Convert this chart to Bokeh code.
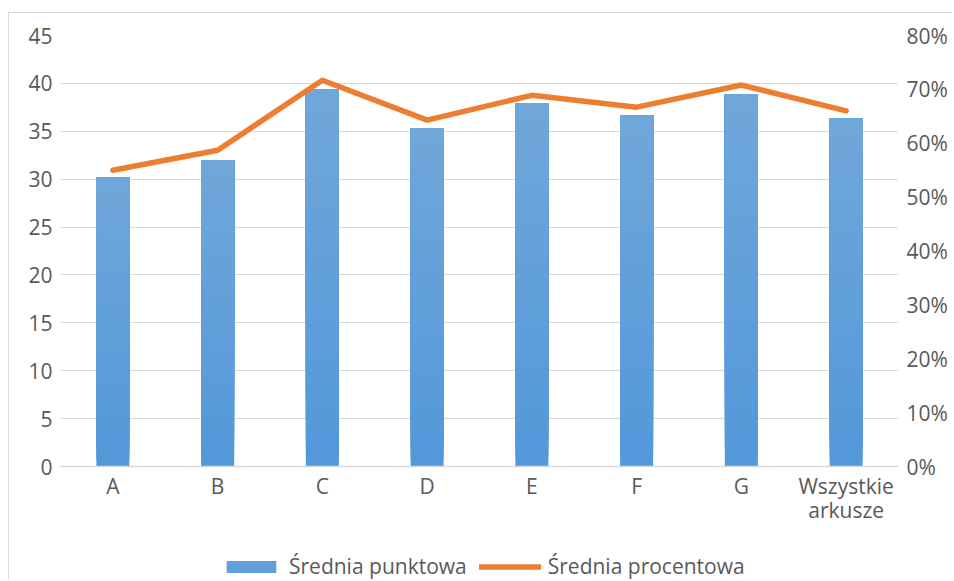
from bokeh.plotting import figure
from bokeh.models import (Range1d, FactorRange, LinearAxis, FixedTicker, NumeralTickFormatter,
                          ColumnDataSource, Legend, LegendItem)
from bokeh.embed import file_html
from bokeh.resources import INLINE

categories = ["A", "B", "C", "D", "E", "F", "G", "Wszystkie\narkusze"]
avg_points = [30.2, 32.0, 39.4, 35.3, 37.9, 36.7, 38.9, 36.3]
avg_percent = [0.550, 0.587, 0.717, 0.643, 0.689, 0.667, 0.708, 0.660]
left_ticks = [0, 5, 10, 15, 20, 25, 30, 35, 40, 45]
right_ticks = [0.0, 0.1, 0.2, 0.3, 0.4, 0.5, 0.6, 0.7, 0.8]
series_names = ["Średnia punktowa", "Średnia procentowa"]

FONT = "Open Sans"
FS = "21px"
LABEL_COLOR = "#595959"
GRID = "#d9d9d9"
BAR_TOP = (112, 167, 218)
BAR_BOTTOM = (83, 152, 218)
LINE_COLOR = "#ed7d31"

# layout: the frame extends below the zero line to hold the category labels and legend
W, H = 944, 567
TOP, BOTTOM = 22, 0
FRAME_H = H - TOP - BOTTOM
DATA_H = 431            # pixels between 0 and 45
Y_MAX, P_MAX = 45, 0.8
y_start = -Y_MAX * (FRAME_H - DATA_H) / DATA_H
p_start = -P_MAX * (FRAME_H - DATA_H) / DATA_H

p = figure(width=W, height=H, x_range=FactorRange(*categories, range_padding=0),
           y_range=Range1d(y_start, Y_MAX), output_backend="svg", toolbar_location=None,
           min_border_left=51, min_border_right=55, min_border_top=TOP, min_border_bottom=BOTTOM)
p.styles = {"border-left": "1px solid #d9d9d9", "border-top": "1px solid #d9d9d9",
            "margin-top": "12px", "margin-left": "8px"}
p.outline_line_color = None
p.background_fill_color = "white"
p.extra_y_ranges = {"pct": Range1d(p_start, P_MAX)}

# gradient bars: overlapping slices from bottom colour to top colour
N = 40
xs, bottoms, tops, colors = [], [], [], []
for c, v in zip(categories, avg_points):
    for k in range(N):
        t = k / (N - 1)
        col = tuple(int(round(BAR_BOTTOM[i] + (BAR_TOP[i] - BAR_BOTTOM[i]) * t)) for i in range(3))
        xs.append(c)
        bottoms.append(v * k / N)
        tops.append(v)
        colors.append("#%02x%02x%02x" % col)
src = ColumnDataSource(dict(x=xs, bottom=bottoms, top=tops, color=colors))
bars = p.vbar(x="x", bottom="bottom", top="top", width=0.315, fill_color="color",
              line_color=None, source=src)

line = p.line(x=categories, y=avg_percent, y_range_name="pct", line_color=LINE_COLOR,
              line_width=5.5, line_join="round", line_cap="round")


def style_axis(ax, standoff):
    ax.major_tick_line_color = None
    ax.minor_tick_line_color = None
    ax.major_tick_out = 0
    ax.major_tick_in = 0
    ax.minor_tick_out = 0
    ax.minor_tick_in = 0
    ax.major_label_text_font = FONT
    ax.major_label_text_font_size = FS
    ax.major_label_text_color = LABEL_COLOR
    ax.major_label_standoff = standoff


yl = p.yaxis[0]
yl.ticker = FixedTicker(ticks=left_ticks)
yl.axis_line_color = None
style_axis(yl, 8)

yr = LinearAxis(y_range_name="pct", ticker=FixedTicker(ticks=right_ticks),
                formatter=NumeralTickFormatter(format="0%"))
yr.axis_line_color = None
style_axis(yr, 8)
p.add_layout(yr, "right")

xa = p.xaxis[0]
xa.fixed_location = 0
xa.axis_line_color = GRID
xa.axis_line_width = 1.5
style_axis(xa, 5)
xa.major_label_text_line_height = 0.87

p.xgrid.grid_line_color = None
p.ygrid.grid_line_color = GRID
p.ygrid.grid_line_width = 1
p.ygrid.ticker = FixedTicker(ticks=left_ticks)

legend = Legend(items=[LegendItem(label=series_names[0], renderers=[bars], index=N // 2),
                       LegendItem(label=series_names[1], renderers=[line])],
                orientation="horizontal", location=(160, 0),
                glyph_width=62, glyph_height=15, label_standoff=7, spacing=12,
                padding=0, margin=0, border_line_color=None, background_fill_alpha=0,
                label_text_font=FONT, label_text_font_size=FS, label_text_color=LABEL_COLOR)
p.add_layout(legend, "center")

open("out.html", "w").write(file_html(p, INLINE))
